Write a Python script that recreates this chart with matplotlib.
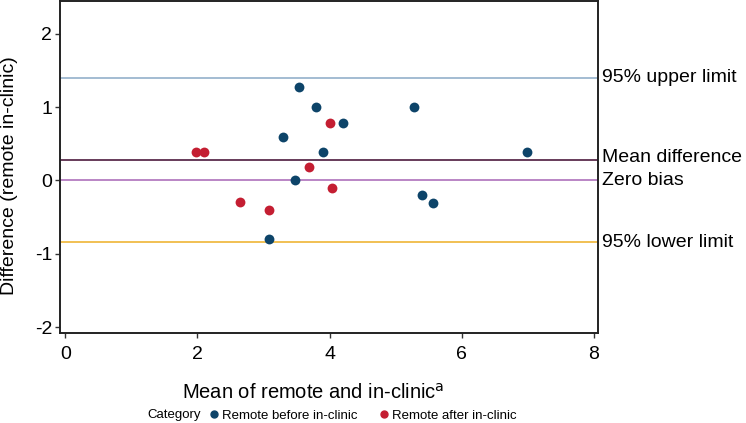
import matplotlib.pyplot as plt
from matplotlib.lines import Line2D

plt.rcParams['font.family'] = ['Liberation Sans', 'DejaVu Sans']
plt.rcParams['axes.unicode_minus'] = False

# Bland-Altman data
before_x = [3.54, 3.79, 4.20, 5.28, 3.29, 3.90, 6.99, 3.48, 5.39, 5.56, 3.08]
before_y = [1.28, 1.00, 0.79, 1.00, 0.59, 0.39, 0.39, 0.00, -0.20, -0.31, -0.80]
after_x = [1.98, 2.10, 4.00, 3.69, 4.04, 2.64, 3.08]
after_y = [0.39, 0.39, 0.79, 0.19, -0.10, -0.30, -0.40]

ref_names = ['95% upper limit', 'Mean difference', 'Zero bias', '95% lower limit']
ref_values = [1.40, 0.28, 0.0, -0.84]
ref_colors = ['#9cb6cf', '#5b2c4c', '#b47cc0', '#f0bb45']
label_y = [1.40, 0.31, 0.0, -0.84]

BLUE = '#0d4469'
RED = '#c41e32'

fig = plt.figure(figsize=(7.46, 4.23), dpi=100)
ax = fig.add_axes([0.0804, 0.2128, 0.7212, 0.7852])

for val, col in zip(ref_values, ref_colors):
    ax.axhline(val, color=col, linewidth=1.3, zorder=1)

ax.scatter(before_x, before_y, s=50, color=BLUE, zorder=3, linewidths=0)
ax.scatter(after_x, after_y, s=50, color=RED, zorder=3, linewidths=0)

ax.set_xlim(-0.08, 8.06)
ax.set_ylim(-2.08, 2.45)
ax.set_xticks([0, 2, 4, 6, 8])
ax.set_yticks([-2, -1, 0, 1, 2])
ax.tick_params(labelsize=14, length=3.5, width=1, color='#333333', pad=2)
ax.tick_params(axis='x', pad=6)
for sp in ax.spines.values():
    sp.set_linewidth(1.4)
    sp.set_color('#222222')

ax.set_ylabel('Difference (remote in-clinic)', fontsize=14, va='center')
ax.yaxis.set_label_coords(-0.094, 0.474)
ax.set_xlabel(r'Mean of remote and in-clinic$^{\mathrm{a}}$', fontsize=14.5, va='center')
ax.xaxis.set_label_coords(0.47, -0.18)

for name, yv in zip(ref_names, label_y):
    ax.text(1.007, (yv + 2.08) / (2.45 + 2.08), name, transform=ax.transAxes,
            fontsize=14, va='center', ha='left')

fig.text(0.197, 0.018, 'Category', fontsize=9.5, va='center', ha='left')
handles = [Line2D([], [], marker='o', linestyle='', color=BLUE, markersize=5),
           Line2D([], [], marker='o', linestyle='', color=RED, markersize=5)]
fig.legend(handles, ['Remote before in-clinic', 'Remote after in-clinic'],
           loc='center left', bbox_to_anchor=(0.278, 0.018), ncol=2, frameon=False,
           fontsize=9.5, handletextpad=0.1, columnspacing=1.5, handlelength=1.0,
           borderaxespad=0, borderpad=0)

fig.savefig('out.png', dpi=100)
